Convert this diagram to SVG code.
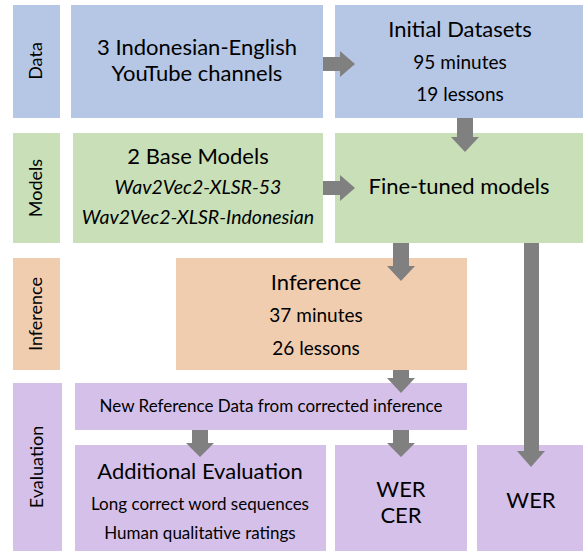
<svg xmlns="http://www.w3.org/2000/svg" width="583" height="551" viewBox="0 0 583 551">
  <style>
    text { font-family: Lato, "Open Sans", "Liberation Sans", sans-serif; fill: #000; text-anchor: middle; }
    .data { fill: #b6c6e5; }
    .model { fill: #c8dfb8; }
    .infer { fill: #f1cdb0; }
    .eval { fill: #d5c0ea; }
    .lane { font-size: 18px; }
    .title { font-size: 22px; }
    .sub { font-size: 19px; }
    .it { font-style: italic; font-size: 19.5px; }
    .small { font-size: 17px; }
    .arrow { fill: #808080; }
  </style>

  <!-- lane labels -->
  <g id="lane-data">
    <rect class="data" x="13" y="5" width="47" height="113"/>
    <text class="lane" transform="translate(42,61) rotate(-90)">Data</text>
  </g>
  <g id="lane-models">
    <rect class="model" x="13" y="133" width="47" height="110"/>
    <text class="lane" transform="translate(42,188) rotate(-90)">Models</text>
  </g>
  <g id="lane-inference">
    <rect class="infer" x="13" y="258" width="47" height="112"/>
    <text class="lane" transform="translate(42,314) rotate(-90)">Inference</text>
  </g>
  <g id="lane-evaluation">
    <rect class="eval" x="13" y="383" width="49" height="168"/>
    <text class="lane" transform="translate(43,467) rotate(-90)">Evaluation</text>
  </g>

  <!-- data row -->
  <g id="youtube-channels">
    <rect class="data" x="71" y="5" width="252" height="113"/>
    <text class="title" x="197" y="55">3 Indonesian-English</text>
    <text class="title" x="197" y="81">YouTube channels</text>
  </g>
  <g id="initial-datasets">
    <rect class="data" x="335" y="5" width="248" height="113"/>
    <text class="title" x="460" y="37">Initial Datasets</text>
    <text class="sub" x="460" y="69">95 minutes</text>
    <text class="sub" x="460" y="101">19 lessons</text>
  </g>

  <!-- models row -->
  <g id="base-models">
    <rect class="model" x="73" y="133" width="250" height="110"/>
    <text class="title" x="198" y="164">2 Base Models</text>
    <text class="it" x="198" y="194">Wav2Vec2-XLSR-53</text>
    <text class="it" x="198" y="224">Wav2Vec2-XLSR-Indonesian</text>
  </g>
  <g id="fine-tuned">
    <rect class="model" x="335" y="133" width="248" height="110"/>
    <text class="title" x="459" y="194">Fine-tuned models</text>
  </g>

  <!-- inference row -->
  <g id="inference">
    <rect class="infer" x="176" y="258" width="291" height="112"/>
    <text class="title" x="316" y="290">Inference</text>
    <text class="sub" x="316" y="322">37 minutes</text>
    <text class="sub" x="316" y="355">26 lessons</text>
  </g>

  <!-- evaluation row -->
  <g id="new-reference">
    <rect class="eval" x="75" y="383" width="392" height="47"/>
    <text class="small" x="271" y="412">New Reference Data from corrected inference</text>
  </g>
  <g id="additional-evaluation">
    <rect class="eval" x="75" y="445" width="251" height="106"/>
    <text class="title" x="200" y="479">Additional Evaluation</text>
    <text class="small" x="200" y="510">Long correct word sequences</text>
    <text class="small" x="200" y="539">Human qualitative ratings</text>
  </g>
  <g id="wer-cer">
    <rect class="eval" x="335" y="445" width="132" height="106"/>
    <text class="title" x="401" y="497">WER</text>
    <text class="title" x="401" y="523">CER</text>
  </g>
  <g id="wer">
    <rect class="eval" x="477" y="445" width="106" height="106"/>
    <text class="title" x="531" y="508">WER</text>
  </g>

  <!-- connectors: block arrows -->
  <g id="connectors" class="arrow">
    <path d="M323,57 H340 V51 L355,64 L340,77 V71 H323 Z"/>
    <path d="M323,181 H340 V175 L355,188 L340,201 V195 H323 Z"/>
    <path d="M457,118 V137 H451 L465,152 L479,137 H473 V118 Z"/>
    <path d="M393,243 V266 H387 L401,281 L415,266 H409 V243 Z"/>
    <path d="M524,243 V451 H517 L531,467 L545,451 H539 V243 Z"/>
    <path d="M393,370 V378 H387 L401,393 L415,378 H409 V370 Z"/>
    <path d="M192,430 V443 H186 L200,457 L214,443 H208 V430 Z"/>
    <path d="M393,430 V443 H387 L401,457 L415,443 H409 V430 Z"/>
  </g>
</svg>
